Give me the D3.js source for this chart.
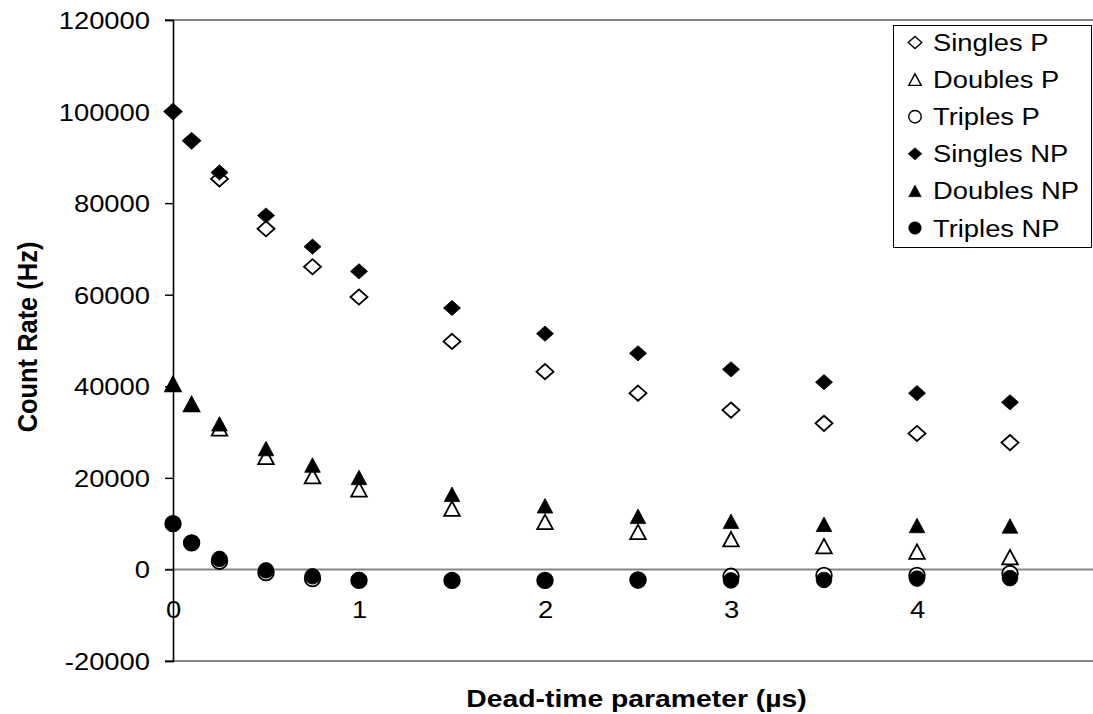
<!DOCTYPE html>
<html><head><meta charset="utf-8">
<script src="https://cdn.jsdelivr.net/npm/d3@7"></script>
<style>
html,body{margin:0;padding:0;background:#fff;}
svg{display:block;font-family:"Liberation Sans",Arial,sans-serif;}
</style></head>
<body>
<svg id="chart" width="1093" height="714"></svg>
<script>
// ---- data ----
const deadTime = [0, 0.1, 0.25, 0.5, 0.75, 1, 1.5, 2, 2.5, 3, 3.5, 4, 4.5];
const singlesP  = [100000, 93600, 85300, 74400, 66100, 59500, 49800, 43200, 38500, 34800, 31900, 29700, 27700];
const doublesP  = [40500, 36100, 30800, 24600, 20400, 17500, 13300, 10400, 8200, 6600, 5100, 3900, 2700];
const triplesP  = [10000, 5800, 1800, -700, -2000, -2400, -2400, -2400, -2300, -1500, -1300, -1300, -900];
const singlesNP = [100000, 93700, 86700, 77300, 70500, 65100, 57100, 51500, 47200, 43700, 40900, 38500, 36500];
const doublesNP = [40500, 36100, 31800, 26400, 22800, 20100, 16400, 13900, 11600, 10500, 9850, 9600, 9500];
const triplesNP = [10000, 5800, 2300, -200, -1500, -2300, -2400, -2400, -2400, -2400, -2300, -2000, -1900];
const xTicks = [0, 1, 2, 3, 4];
const yTicks = [-20000, 0, 20000, 40000, 60000, 80000, 100000, 120000];
const seriesNames = ["Singles P", "Doubles P", "Triples P", "Singles NP", "Doubles NP", "Triples NP"];
const seriesShapes = ["diamond", "triangle", "circle", "diamond", "triangle", "circle"];
const seriesFilled = [false, false, false, true, true, true];
const seriesValues = [singlesP, doublesP, triplesP, singlesNP, doublesNP, triplesNP];

// ---- layout ----
const svg = d3.select("#chart");
const W = 1093;
const x = d3.scaleLinear().domain([0, 5]).range([173, 1103]);
const y = d3.scaleLinear().domain([-20000, 120000]).range([661, 20]);
const SX = 1.14; // horizontal stretch of text in the reference
const fmt = d => String(d);

function shapePath(shape, s) {
  if (shape === "diamond") {
    const a = 8.5 * s, b = 7.6 * s;
    return `M0,${-b}L${a},0L0,${b}L${-a},0Z`;
  }
  if (shape === "triangle") {
    const a = 7.8 * s, h = 14.5 * s;
    return `M0,${-h/2}L${a},${h/2}L${-a},${h/2}Z`;
  }
  const r = 7.8 * s;
  return `M${-r},0A${r},${r} 0 1,0 ${r},0A${r},${r} 0 1,0 ${-r},0Z`;
}

// gray horizontal lines: top, zero, bottom
[120000, 0, -20000].forEach(v => {
  svg.append("line").attr("x1", 165).attr("x2", W)
    .attr("y1", y(v)).attr("y2", y(v))
    .attr("stroke", "#858585").attr("stroke-width", 2);
});

// y axis
const yAxis = d3.axisLeft(y).tickValues(yTicks).tickSize(8).tickFormat(fmt);
const gy = svg.append("g").attr("transform", `translate(${x(0)},0)`).call(yAxis);
gy.select(".domain").attr("stroke", "#000").attr("stroke-width", 1.6);
gy.selectAll(".tick line").attr("stroke", "#000").attr("stroke-width", 1.4);
gy.selectAll(".tick text").remove();
gy.selectAll(".tick").append("text")
  .attr("transform", `translate(-23,8.5) scale(${SX},1)`)
  .attr("text-anchor", "end").attr("fill", "#000")
  .style("font-size", "24px")
  .text(fmt);

// x axis tick labels (below zero line, no ticks)
const xAxis = d3.axisBottom(x).tickValues(xTicks).tickSize(0).tickFormat(fmt);
const gx = svg.append("g").attr("transform", `translate(0,${y(0)})`).call(xAxis);
gx.select(".domain").remove();
gx.selectAll(".tick text").remove();
gx.selectAll(".tick").append("text")
  .attr("transform", `translate(0,49) scale(${SX},1)`)
  .attr("text-anchor", "middle").attr("fill", "#000")
  .style("font-size", "24px")
  .text(fmt);

// series
seriesValues.forEach((vals, i) => {
  svg.append("g").selectAll("path")
    .data(deadTime.map((t, j) => ({ t, v: vals[j] })))
    .join("path")
    .attr("transform", d => `translate(${x(d.t)},${y(d.v)})`)
    .attr("d", shapePath(seriesShapes[i], 1))
    .attr("fill", seriesFilled[i] ? "#000" : "#fff")
    .attr("stroke", "#000")
    .attr("stroke-width", seriesFilled[i] ? 0.8 : 1.8);
});

// axis titles
svg.append("text")
  .attr("transform", `translate(636.5,707) scale(1.18,1)`)
  .attr("text-anchor", "middle").attr("fill", "#000")
  .style("font-size", "24px").style("font-weight", "bold")
  .text("Dead-time parameter (µs)");
svg.append("text")
  .attr("transform", `translate(37,337) scale(1.15,1.06) rotate(-90)`)
  .attr("text-anchor", "middle").attr("fill", "#000")
  .style("font-size", "24px").style("font-weight", "bold")
  .text("Count Rate (Hz)");

// legend
const lg = svg.append("g");
lg.append("rect").attr("x", 893.5).attr("y", 25.5).attr("width", 198).attr("height", 222)
  .attr("fill", "#fff").attr("stroke", "#000").attr("stroke-width", 1);
seriesNames.forEach((name, i) => {
  const cy = 42.5 + i * 37.1;
  lg.append("path")
    .attr("transform", `translate(915,${cy})`)
    .attr("d", shapePath(seriesShapes[i], 0.8))
    .attr("fill", seriesFilled[i] ? "#000" : "#fff")
    .attr("stroke", "#000")
    .attr("stroke-width", seriesFilled[i] ? 0.6 : 1.4);
  lg.append("text")
    .attr("transform", `translate(933,${cy + 8.5}) scale(${SX},1)`)
    .attr("fill", "#000").style("font-size", "24px")
    .text(name);
});
</script>
</body></html>
